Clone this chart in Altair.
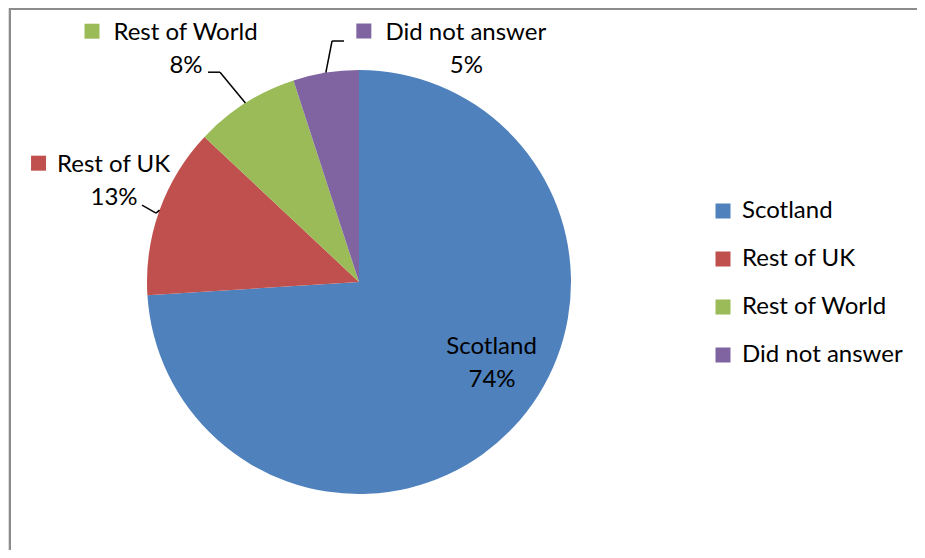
import math
import altair as alt
import pandas as pd

# ---- data ----
categories = ["Scotland", "Rest of UK", "Rest of World", "Did not answer"]
values = [74, 13, 8, 5]
pct_labels = ["74%", "13%", "8%", "5%"]
colors = ["#4F81BD", "#C0504D", "#9BBB59", "#8064A2"]

# ---- layout (chart coordinates, origin = top-left of the view) ----
W, H = 909, 542
CX, CY, R = 351, 274, 212
FONT = "Lato"
FS = 24
LINE = 33
# offsets of the percentage line relative to the slice's outer mid-point
label_off = {
    "Scotland": (-21.5, -47),
    "Rest of UK": (-45.5, -12),
    "Rest of World": (-59.4, -36.8),
    "Did not answer": (140.5, -6.6),
}
key_off = {"Rest of UK": -75.5, "Rest of World": -94, "Did not answer": -102.5}
leader = {  # (elbow, end) offsets relative to slice outer mid-point
    "Rest of UK": ((-3.5, 3), (-17.5, -5)),
    "Rest of World": ((-25.4, -30.8), (-37.4, -30.8)),
    "Did not answer": ((6.2, -31.6), (18.2, -31.6)),
}

total = sum(values)
rows, txt, keys, segs = [], [], [], []
cum = 0
for i, (c, v, p) in enumerate(zip(categories, values, pct_labels)):
    mid = (cum + v / 2) / total * 2 * math.pi
    cum += v
    ex, ey = CX + R * math.sin(mid), CY - R * math.cos(mid)
    rows.append({"category": c, "value": v, "order": i})
    dx, dy = label_off[c]
    px, py = ex + dx, ey + dy
    txt.append({"category": c, "t": p, "x": px, "y": py})
    txt.append({"category": c, "t": c, "x": px - 0.5, "y": py - LINE})
    if c in key_off:
        keys.append({"category": c, "x": px + key_off[c], "y": py - LINE - 2})
    if c in leader:
        (ebx, eby), (enx, eny) = leader[c]
        segs.append({"x": ex, "y": ey, "x2": ex + ebx, "y2": ey + eby})
        segs.append({"x": ex + ebx, "y": ey + eby, "x2": ex + enx, "y2": ey + eny})

df = pd.DataFrame(rows)
tdf = pd.DataFrame(txt)
kdf = pd.DataFrame(keys)
sdf = pd.DataFrame(segs)

color_scale = alt.Scale(domain=categories, range=colors)

pie = alt.Chart(df).mark_arc(radius=R).encode(
    theta=alt.Theta("value:Q", stack=True),
    order=alt.Order("order:Q"),
    color=alt.Color(
        "category:N",
        scale=color_scale,
        sort=categories,
        legend=alt.Legend(
            title=None,
            orient="none",
            legendX=703,
            legendY=191,
            symbolType="square",
            symbolSize=225,
            symbolStrokeWidth=0,
            labelFont=FONT,
            labelFontSize=FS,
            labelColor="#000000",
            labelOffset=7,
            labelLimit=400,
            rowPadding=24,
            padding=0,
        ),
    ),
    x=alt.value(CX),
    y=alt.value(CY),
)

labels = alt.Chart(tdf).mark_text(
    font=FONT, fontSize=FS, color="#000000", align="center", baseline="middle"
).encode(
    x=alt.X("x:Q", scale=None, axis=None),
    y=alt.Y("y:Q", scale=None, axis=None),
    text="t:N",
)

keymarks = alt.Chart(kdf).mark_square(size=225, opacity=1, strokeWidth=0).encode(
    x=alt.X("x:Q", scale=None, axis=None),
    y=alt.Y("y:Q", scale=None, axis=None),
    color=alt.Color("category:N", scale=color_scale, legend=None),
)

leaders = alt.Chart(sdf).mark_rule(color="#000000", strokeWidth=1.5).encode(
    x=alt.X("x:Q", scale=None, axis=None),
    y=alt.Y("y:Q", scale=None, axis=None),
    x2="x2:Q",
    y2="y2:Q",
)

frame_top = alt.Chart(df).mark_rule(color="#8c8c8c", strokeWidth=2).encode(
    x=alt.value(1), x2=alt.value(W), y=alt.value(1)
)
frame_left = alt.Chart(df).mark_rule(color="#8c8c8c", strokeWidth=2).encode(
    x=alt.value(2), y=alt.value(0), y2=alt.value(H)
)

chart = alt.layer(pie, leaders, labels, keymarks, frame_top, frame_left).properties(
    width=W, height=H, padding=0, autosize=alt.AutoSizeParams(type="none")
).configure_view(stroke=None).configure(background="#ffffff")

chart.save("out.html", embed_options={"renderer": "svg", "actions": False})
